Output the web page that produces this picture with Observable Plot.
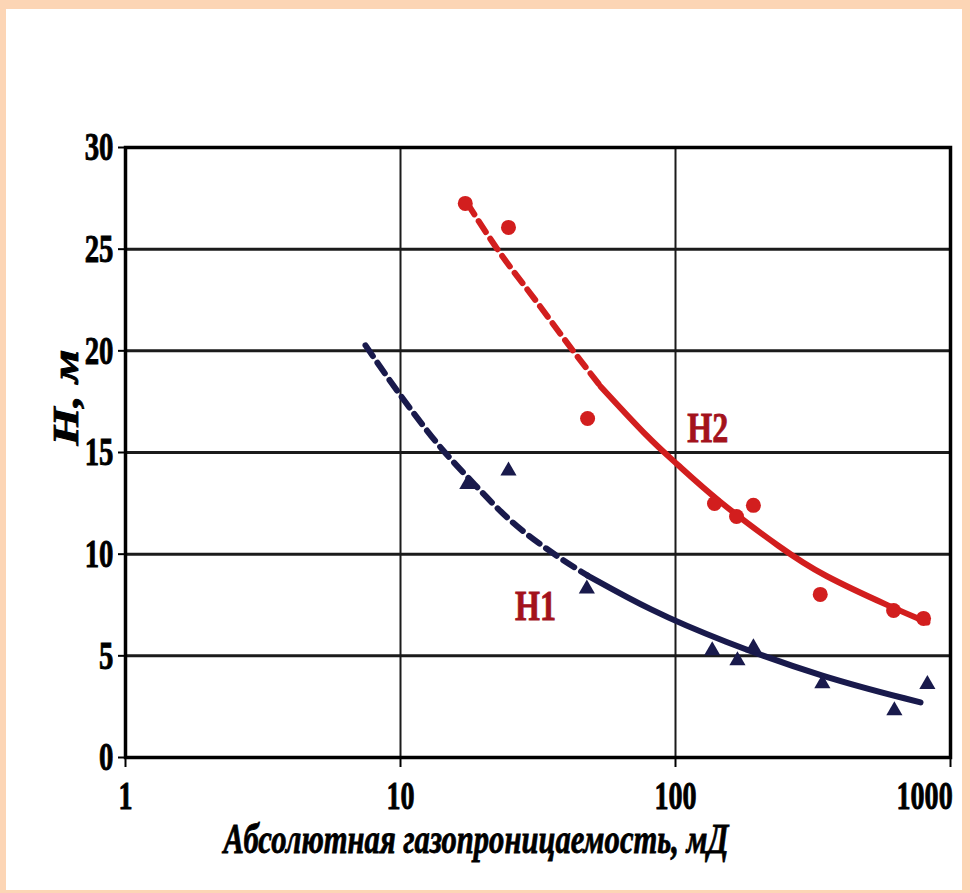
<!DOCTYPE html>
<html><head><meta charset="utf-8">
<script src="https://cdn.jsdelivr.net/npm/d3@7"></script>
<script src="https://cdn.jsdelivr.net/npm/@observablehq/plot@0.6"></script>
<style>
html,body{margin:0;padding:0;background:#fcd5b5;width:970px;height:893px;overflow:hidden}
#panel{position:absolute;left:6px;top:9px;width:956px;height:881px;background:#fff}
</style></head><body><div id="panel"></div>
<script>
// ---- data ----
const xTicks = [1, 10, 100, 1000];
const yTicks = [0, 5, 10, 15, 20, 25, 30];
const xGrid = [10, 100];
const yGrid = [5, 10, 15, 20, 25];
const xTitle = "Абсолютная газопроницаемость, мД";
const yTitle = "H, м";

// H2 measured points (red circles)
const h2K = [17.2, 24.7, 47.9, 138.6, 166.7, 192, 336, 621, 798];
const h2H = [27.25, 26.07, 16.67, 12.49, 11.85, 12.4, 8.02, 7.23, 6.84];
// H1 measured points (navy triangles)
const h1K = [17.5, 24.7, 47.6, 136, 168, 192, 342, 625, 824];
const h1H = [13.43, 14.1, 8.3, 5.26, 4.77, 5.41, 3.64, 2.31, 3.6];

// trend curves
const h2DashK = [17.5, 22.5, 31.0, 42.6, 53.4];
const h2DashH = [27.25, 25.0, 22.48, 19.97, 18.25];
const h2SolidK = [53.4, 81.1, 100, 139.8, 247, 336.7, 620, 824];
const h2SolidH = [18.25, 15.59, 14.51, 12.69, 10.2, 9.0, 7.35, 6.64];
const h1DashK = [7.46, 10, 14.3, 18, 25.1, 36.0, 47.9];
const h1DashH = [20.27, 17.81, 15.10, 13.63, 11.66, 10.03, 8.95];
const h1SolidK = [47.9, 81.1, 145.8, 345, 778];
const h1SolidH = [8.95, 7.23, 5.75, 3.93, 2.71];

const seriesNames = ["H1", "H2"];
const labelK = [31, 131];
const labelH = [7.4, 16.2];

// ---- chart ----
const red = "#d21e1e", navy = "#191a4c", labelRed = "#a3121c";
const rows = (ks, hs) => ks.map((k, i) => ({k, h: hs[i]}));

const svg = Plot.plot({
  width: 956, height: 881,
  marginLeft: 119, marginRight: 12, marginTop: 138, marginBottom: 133,
  style: {background: "transparent", fontFamily: "'Liberation Serif', 'Times New Roman', serif", fontWeight: "bold", color: "#000", overflow: "visible"},
  x: {type: "log", domain: [1, 1000]},
  y: {domain: [0, 30]},
  marks: [
    Plot.ruleY(yGrid, {y: d => d, stroke: "#1b1b1b", strokeWidth: 3}),
    Plot.ruleX(xGrid, {x: d => d, stroke: "#1b1b1b", strokeWidth: 2}),
    Plot.frame({stroke: "#000", strokeWidth: 3.5}),
    Plot.axisY({ticks: yTicks, tickSize: 7, tickPadding: 5, label: null, fontSize: 40, strokeWidth: 2, tickFormat: d => String(d)}),
    Plot.axisX({ticks: xTicks, tickSize: 10, tickPadding: 14, label: null, fontSize: 39, strokeWidth: 2, tickFormat: d => String(d)}),
    Plot.line(rows(h2DashK, h2DashH), {x: "k", y: "h", stroke: red, strokeWidth: 6, strokeDasharray: "13,8", curve: "monotone-x"}),
    Plot.line(rows(h2SolidK, h2SolidH), {x: "k", y: "h", stroke: red, strokeWidth: 6, curve: "basis"}),
    Plot.line(rows(h1DashK, h1DashH), {x: "k", y: "h", stroke: navy, strokeWidth: 6, strokeDasharray: "13,8", curve: "monotone-x"}),
    Plot.line(rows(h1SolidK, h1SolidH), {x: "k", y: "h", stroke: navy, strokeWidth: 6, curve: "basis"}),
    Plot.dot(rows(h2K, h2H), {x: "k", y: "h", r: 7.5, fill: red, stroke: "none"}),
    Plot.dot(rows(h1K, h1H), {x: "k", y: "h", r: 6, symbol: "triangle", fill: navy, stroke: "none"}),
    Plot.text(seriesNames, {x: (d, i) => labelK[i], y: (d, i) => labelH[i], text: d => d, fill: labelRed, fontSize: 42, fontWeight: "bold"}),
    Plot.text([xTitle], {frameAnchor: "bottom", lineAnchor: "middle", dx: -62, dy: 82, text: d => d, fontSize: 42, fontStyle: "italic", fontWeight: "bold"}),
    Plot.text([yTitle], {frameAnchor: "left", lineAnchor: "middle", dx: -59, dy: -7, rotate: -90, text: d => d, fontSize: 36, fontStyle: "italic", fontWeight: "bold"})
  ]
});
document.getElementById("panel").append(svg);

// condensed, heavy lettering like the scanned original
const tickTexts = new Set(xTicks.concat(yTicks).map(String));
const fitLen = new Map([[xTitle, 505], [yTitle, 96], ["H1", 41], ["H2", 41]]);
svg.querySelectorAll("text").forEach(t => {
  const s = t.textContent;
  if (fitLen.has(s)) {
    t.setAttribute("textLength", fitLen.get(s));
    t.setAttribute("lengthAdjust", "spacingAndGlyphs");
    t.style.stroke = s === "H1" || s === "H2" ? labelRed : "#000";
    t.style.strokeWidth = "0.8px";
  } else if (tickTexts.has(s)) {
    const tr = t.getAttribute("transform") || "";
    t.setAttribute("transform", tr + " scale(0.72,1)");
    t.style.stroke = "#000";
    t.style.strokeWidth = "0.9px";
    if (s === "1000") { t.setAttribute("text-anchor", "end"); t.setAttribute("dx", "3"); }
  }
});
</script>
</body></html>
